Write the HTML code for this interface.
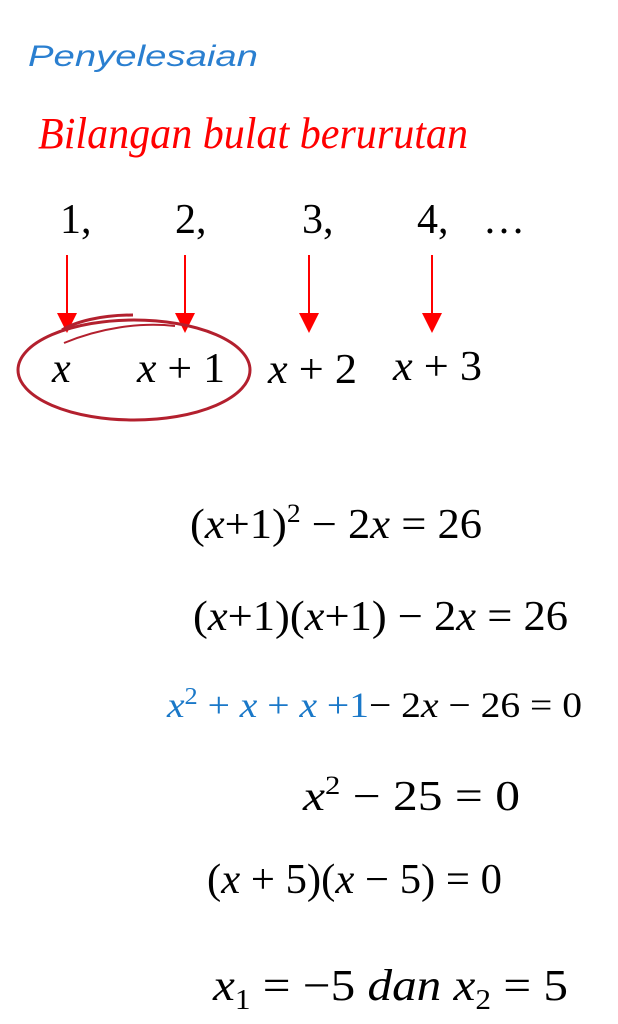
<!DOCTYPE html>
<html><head><meta charset="utf-8"><style>
html,body{margin:0;padding:0;background:#fff;width:618px;height:1024px;overflow:hidden}
svg{display:block}
text{font-family:"Liberation Serif",serif}
</style></head><body>
<svg width="618" height="1024" viewBox="0 0 618 1024">
<text x="28" y="66" style="font-family:'Liberation Sans',sans-serif;font-style:italic;fill:#2a7fd0" font-size="30" textLength="230" lengthAdjust="spacingAndGlyphs">Penyelesaian</text>
<text x="38" y="148" font-size="44" font-style="italic" style="fill:#ff0000" textLength="430" lengthAdjust="spacingAndGlyphs">Bilangan bulat berurutan</text>
<g font-size="42">
<text x="60" y="233">1,</text><text x="175" y="233">2,</text><text x="302" y="233">3,</text><text x="417" y="233">4,</text><text x="483" y="233">…</text>
</g>
<g stroke="#f00" stroke-width="2">
<line x1="67" y1="255" x2="67" y2="318"/><line x1="185" y1="255" x2="185" y2="318"/><line x1="309" y1="255" x2="309" y2="318"/><line x1="432" y1="255" x2="432" y2="318"/>
</g>
<g fill="#f00">
<polygon points="57,313 77,313 67,333"/><polygon points="175,313 195,313 185,333"/><polygon points="299,313 319,313 309,333"/><polygon points="422,313 442,313 432,333"/>
</g>
<path d="M133,315 C100,315 75,322 62,330" fill="none" stroke="#b3202e" stroke-width="3"/>
<path d="M64,343 C100,328 140,322 175,326" fill="none" stroke="#b3202e" stroke-width="2"/>
<ellipse cx="134" cy="370" rx="116" ry="50" fill="none" stroke="#b3202e" stroke-width="3"/>
<g font-size="42">
<text x="52" y="382" font-style="italic">x</text>
<text x="137" y="382" textLength="88" lengthAdjust="spacingAndGlyphs"><tspan font-style="italic">x</tspan> + 1</text>
<text x="268" y="383" textLength="89" lengthAdjust="spacingAndGlyphs"><tspan font-style="italic">x</tspan> + 2</text>
<text x="393" y="380" textLength="89" lengthAdjust="spacingAndGlyphs"><tspan font-style="italic">x</tspan> + 3</text>
</g>
<text x="190" y="538" font-size="42" textLength="292" lengthAdjust="spacingAndGlyphs">(<tspan font-style="italic">x</tspan>+1)<tspan dy="-16" font-size="26">2</tspan><tspan dy="16"> − 2<tspan font-style="italic">x</tspan> = 26</tspan></text>
<text x="193" y="630" font-size="42" textLength="375" lengthAdjust="spacingAndGlyphs">(<tspan font-style="italic">x</tspan>+1)(<tspan font-style="italic">x</tspan>+1) − 2<tspan font-style="italic">x</tspan> = 26</text>
<text x="167" y="717" font-size="36" textLength="415" lengthAdjust="spacingAndGlyphs"><tspan style="fill:#1a78c8"><tspan font-style="italic">x</tspan><tspan dy="-13" font-size="24">2</tspan><tspan dy="13"> + </tspan><tspan font-style="italic">x</tspan> + <tspan font-style="italic">x</tspan> +1</tspan>− 2<tspan font-style="italic">x</tspan> − 26 = 0</text>
<text x="303" y="810" font-size="42" textLength="217" lengthAdjust="spacingAndGlyphs"><tspan font-style="italic">x</tspan><tspan dy="-16" font-size="26">2</tspan><tspan dy="16"> − 25 = 0</tspan></text>
<text x="207" y="893" font-size="42" textLength="295" lengthAdjust="spacingAndGlyphs">(<tspan font-style="italic">x</tspan> + 5)(<tspan font-style="italic">x</tspan> − 5) = 0</text>
<text x="213" y="1000" font-size="44" textLength="355" lengthAdjust="spacingAndGlyphs"><tspan font-style="italic">x</tspan><tspan dy="9" font-size="28">1</tspan><tspan dy="-9"> = −5 </tspan><tspan font-style="italic">dan x</tspan><tspan dy="9" font-size="28">2</tspan><tspan dy="-9"> = 5</tspan></text>
</svg>
</body></html>
